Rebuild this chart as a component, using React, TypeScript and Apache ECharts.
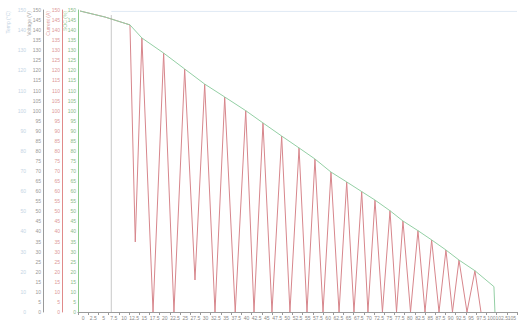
import React, { useEffect, useRef } from "react";
import * as echarts from "echarts";

const xLabels = [
  "0", "2.5", "5", "7.5", "10", "12.5", "15", "17.5", "20", "22.5", "25", "27.5", "30", "32.5", "35",
  "37.5", "40", "42.5", "45", "47.5", "50", "52.5", "55", "57.5", "60", "62.5", "65", "67.5", "70",
  "72.5", "75", "77.5", "80", "82.5", "85", "87.5", "90", "92.5", "95", "97.5", "100", "102.5", "105",
];

// envelope (green) points, x in category-index units
const envX = [-0.3, 2.15, 4.59, 5.76, 7.89, 9.95, 11.91, 13.87, 15.93, 17.62, 19.45, 21.15, 22.71, 24.28,
  25.82, 27.29, 28.59, 30.06, 31.33, 32.8, 34.14, 35.54, 36.82, 38.38, 40.24, 40.34];
const envY = [149.5, 146.5, 142.6, 136.1, 128.6, 120.7, 113.2, 106.8, 100.0, 93.9, 87.4, 81.5, 76.0, 69.5,
  64.6, 59.8, 55.6, 50.3, 45.2, 40.4, 35.8, 30.8, 25.8, 20.5, 12.6, 0];

// troughs of the red series, one after each peak
const troughX = [5.11, 6.85, 8.9, 10.96, 12.92, 14.9, 16.74, 18.5, 20.26, 21.93, 23.5, 25.07, 26.53, 27.9,
  29.32, 30.7, 32.07, 33.49, 34.86, 36.18, 37.6, 38.97];
const troughY = [34.8, 0, 0, 15.9, 0, 0, 0, 0, 0, 0, 0, 0, 0, 0, 0, 0, 0, 0, 0, 0, 0, 0];

const greyX = [2.76, 2.76];
const greyY = [147.5, 0];
const blueX = [2.76, 42.5];
const blueY = [149.3, 149.3];

const axisNames = ["Temp (°C)", "Voltage (V)", "Current (A)", "SOC (%)"];

export default function App() {
  const ref = useRef<HTMLDivElement>(null);
  useEffect(() => {
    if (!ref.current) return;
    const chart = echarts.init(ref.current, null, { renderer: "svg" });
    const envData = envX.map((x, i) => [x, envY[i]]);
    const redData: number[][] = [envData[0], envData[1]];
    for (let k = 0; k < troughX.length; k++) {
      redData.push(envData[2 + k]);
      redData.push([troughX[k], troughY[k]]);
    }
    const mkY = (offset: number, color: string, labelColor: string, showLine: boolean, interval: number) => ({
      type: "value",
      position: "left",
      offset,
      min: 0,
      max: 150,
      interval,
      axisLine: { show: showLine, lineStyle: { color } },
      axisTick: { show: false },
      splitLine: { show: false },
      axisLabel: { fontSize: 5, color: labelColor, margin: 2 },
    });
    const nameText = (x: number, text: string, fill: string) => ({
      type: "text",
      x,
      y: 11,
      rotation: Math.PI / 2,
      style: { text, fill, fontSize: 5, align: "right", verticalAlign: "middle" },
    });
    chart.setOption({
      animation: false,
      backgroundColor: "#fff",
      grid: { left: 78, right: 4, top: 10, bottom: 9 },
      graphic: [
        nameText(8, axisNames[0], "#c4d4e4"),
        nameText(29, axisNames[1], "#aaa"),
        nameText(48, axisNames[2], "#e0a0a0"),
        nameText(65, axisNames[3], "#9c9"),
      ],
      xAxis: [
        {
          type: "category",
          data: xLabels,
          boundaryGap: true,
          axisLine: { lineStyle: { color: "#9a9a9a" } },
          axisTick: { show: true, lineStyle: { color: "#9a9a9a" }, length: 3 },
          axisLabel: { fontSize: 5, color: "#888", interval: 0, margin: 3 },
          splitLine: { show: false },
        },
        { type: "value", min: -0.5, max: 42.5, show: false },
      ],
      yAxis: [
        mkY(50, "#d6e2ee", "#c4d4e4", false, 10),
        mkY(35, "#9a9a9a", "#999", true, 5),
        mkY(16, "#e08a8a", "#d99", true, 5),
        mkY(0, "#8cc98c", "#8b8", true, 5),
      ],
      series: [
        {
          type: "line", xAxisIndex: 1, yAxisIndex: 0, symbol: "none",
          data: blueX.map((x, i) => [x, blueY[i]]),
          lineStyle: { color: "#e0eaf4", width: 1 },
        },
        {
          type: "line", xAxisIndex: 1, yAxisIndex: 1, symbol: "none",
          data: greyX.map((x, i) => [x, greyY[i]]),
          lineStyle: { color: "#c8c8c8", width: 1 },
        },
        {
          type: "line", xAxisIndex: 1, yAxisIndex: 2, symbol: "none",
          data: redData,
          lineStyle: { color: "#d7868c", width: 1 },
        },
        {
          type: "line", xAxisIndex: 1, yAxisIndex: 3, symbol: "none",
          data: envData,
          lineStyle: { color: "#93cfa4", width: 1 },
        },
      ],
    });
    return () => chart.dispose();
  }, []);
  return <div ref={ref} style={{ width: 521, height: 321, position: "absolute", left: 0, top: 0 }} />;
}
